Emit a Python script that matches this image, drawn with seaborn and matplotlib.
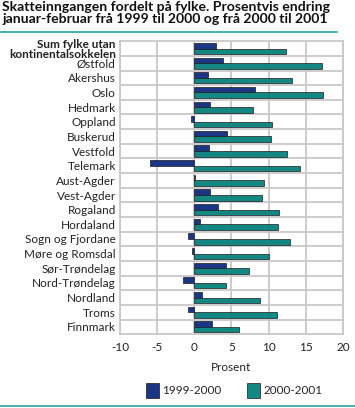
import matplotlib
matplotlib.use("Agg")
import matplotlib.pyplot as plt
import matplotlib.lines as mlines
import pandas as pd
import seaborn as sns

fylke = ["Sum fylke utan\nkontinentalsokkelen", "Østfold", "Akershus", "Oslo", "Hedmark",
         "Oppland", "Buskerud", "Vestfold", "Telemark", "Aust-Agder", "Vest-Agder",
         "Rogaland", "Hordaland", "Sogn og Fjordane", "Møre og Romsdal", "Sør-Trøndelag",
         "Nord-Trøndelag", "Nordland", "Troms", "Finnmark"]
endring_9900 = [2.9, 3.9, 1.9, 8.2, 2.1, -0.5, 4.4, 2.0, -6.0, 0.1, 2.1,
                3.2, 0.7, -0.9, -0.3, 4.3, -1.5, 1.1, -0.9, 2.4]
endring_0001 = [12.4, 17.2, 13.1, 17.3, 7.9, 10.4, 10.3, 12.5, 14.2, 9.4, 9.1,
                11.4, 11.2, 12.9, 10.1, 7.3, 4.2, 8.9, 11.1, 6.0]
perioder = ["1999-2000", "2000-2001"]
x_ticks = [-10, -5, 0, 5, 10, 15, 20]

df = pd.concat([
    pd.DataFrame({"fylke": fylke, "prosent": endring_9900, "periode": perioder[0]}),
    pd.DataFrame({"fylke": fylke, "prosent": endring_0001, "periode": perioder[1]}),
])

sns.set_style("white")
plt.rcParams["font.family"] = ["Lato", "DejaVu Sans"]

fig = plt.figure(figsize=(3.55, 4.08), dpi=100)
ax = fig.add_axes([0.338, 0.181, 0.628, 0.718])

farger = {"1999-2000": "#0a2d96", "2000-2001": "#009b95"}
sns.barplot(data=df, x="prosent", y="fylke", hue="periode", hue_order=perioder,
            order=fylke, palette=farger, orient="h", width=0.76,
            edgecolor="#1a1a1a", linewidth=0.5, ax=ax, legend=True, zorder=3)

ax.set_xlim(-10, 20)
ax.set_xticks(x_ticks)
ax.set_xticklabels([str(t) for t in x_ticks], fontsize=8.5, color="#222222")
ax.set_yticks(range(len(fylke)))
ax.set_yticklabels(fylke, fontsize=8.5, color="#222222", linespacing=0.95)
ax.get_yticklabels()[0].set_fontweight("bold")
ax.tick_params(axis="y", length=0, pad=3)
ax.tick_params(axis="x", length=0, pad=6)
ax.set_xlabel("Prosent", fontsize=8.5, color="#222222", labelpad=6)
ax.set_ylabel("")

ax.set_yticks([i + 0.5 for i in range(len(fylke) - 1)], minor=True)
ax.grid(axis="x", color="#c8c8c8", linewidth=1.3, zorder=0)
ax.grid(axis="y", which="minor", color="#c8c8c8", linewidth=1.3, zorder=0)
ax.tick_params(axis="y", which="minor", length=0)
for s in ax.spines.values():
    s.set_color("#c8c8c8")
    s.set_linewidth(1.3)

handles, labels = ax.get_legend_handles_labels()
ax.get_legend().remove()
for h in handles:
    h.set_edgecolor("#1a1a1a")
fig.legend(handles, labels, loc="center", bbox_to_anchor=(0.66, 0.043), ncol=2,
           frameon=False, fontsize=8.5, handlelength=1.1, handleheight=1.6,
           columnspacing=2.2, handletextpad=0.3)

fig.text(0.006, 0.997, "Skatteinngangen fordelt på fylke. Prosentvis endring\n"
         "januar-februar frå 1999 til 2000 og frå 2000 til 2001",
         fontsize=10.1, fontweight="bold", va="top", ha="left", color="#111111",
         linespacing=1.0)
fig.add_artist(mlines.Line2D([0, 0.95], [0.921, 0.921], color="#3aa9a9", linewidth=1.3))
fig.add_artist(mlines.Line2D([0, 1], [0.004, 0.004], color="#3aa9a9", linewidth=1.3))

fig.savefig("out.png", dpi=100)
